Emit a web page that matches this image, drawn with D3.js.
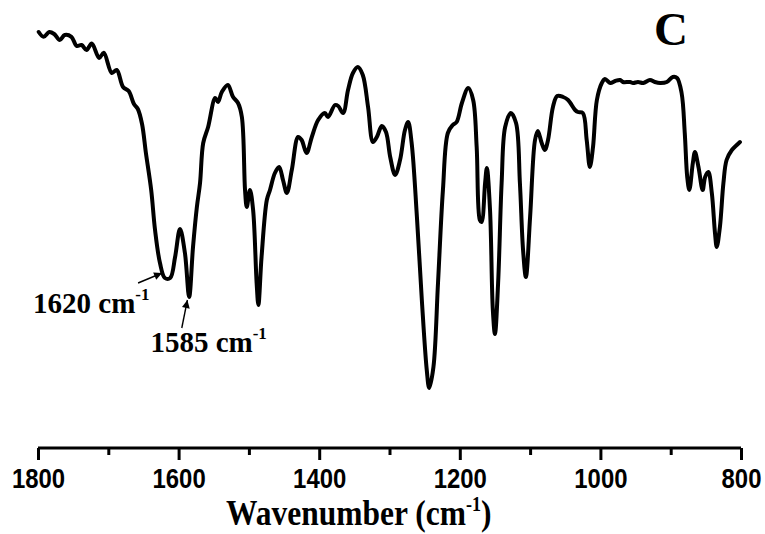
<!DOCTYPE html>
<html>
<head>
<meta charset="utf-8">
<script src="https://cdn.jsdelivr.net/npm/d3@7"></script>
<style>
  html, body { margin: 0; padding: 0; background: #fff; }
  svg { display: block; }
</style>
</head>
<body>
<svg id="chart" width="765" height="534"></svg>
<script>
// Wavenumber (cm-1) and transmittance (arbitrary units)
const wavenumbers = [1799,1792,1784,1777,1769,1762,1752.5,1745,1738,1731,1723.5,1713,1706.5,1695,1688,1679,1671,1663.5,1658,1652,1646.5,1639,1633.5,1626.5,1619.5,1612,1605,1598,1591,1585,1579.5,1574,1569.5,1565,1558,1548,1544,1538.5,1530,1522.5,1515.5,1510,1505.5,1503,1498.5,1494,1489,1486.5,1482,1474.5,1470,1463,1457,1451.5,1446,1439,1430,1425,1418,1410.5,1401.5,1392,1387.5,1377.5,1373,1366,1359,1352,1345,1338,1330.5,1323.5,1318,1311,1305,1299,1292,1285,1278,1273.5,1268.5,1261,1254,1247,1243.5,1237.5,1231,1224,1217,1210,1204.5,1197,1188,1181,1176,1171.5,1169,1164,1161.5,1157,1153,1150,1145.5,1140.5,1135.5,1127.5,1120,1114.5,1110,1106,1100,1093,1089,1083.5,1079,1074.5,1067.5,1061.5,1053,1046,1036,1032,1025,1019.5,1015,1010.5,1005,998,993.5,986,979,972,968,958,953.5,946.5,939,929.5,922.5,915,905.5,897,891,884.5,880,876.5,873.5,868.5,865.5,860.5,854.5,851,846.5,841.5,837,834.5,830,825,820.5,813,806,801.5];
const transmittance = [104.5,103.3,104.5,104.0,102.5,103.75,103.3,101.0,101.25,100.0,101.6,98.0,99.3,94.25,95.0,90.75,89.75,86.5,85.25,81.5,74.25,65.0,55.0,46.75,43.0,43.0,48.25,55.25,49.25,38.25,50.75,60.75,66.75,76.75,80.75,88.0,87.0,89.5,91.25,88.25,86.75,83.25,65.0,60.75,65.0,60.0,41.75,36.25,48.25,62.5,65.0,69.25,70.75,67.5,64.25,70.0,78.25,77.5,74.25,78.25,82.5,84.25,83.25,86.25,86.0,84.25,90.0,94.25,95.75,93.75,85.75,77.0,78.25,81.0,79.5,73.25,68.75,72.5,80.0,82.0,76.75,58.25,37.5,20.0,15.5,20.75,41.75,65.0,79.25,81.25,82.0,86.75,90.5,87.5,75.75,57.5,57.0,66.75,70.5,60.0,35.0,29.0,41.75,66.75,80.75,84.25,81.75,66.75,50.0,43.25,58.25,77.5,79.75,76.75,75.0,77.5,85.75,88.5,88.25,87.5,85.0,84.5,84.25,77.5,70.75,75.75,87.5,91.75,92.75,91.75,92.25,92.5,92.0,92.0,91.75,92.0,91.75,92.5,92.0,91.75,92.0,93.25,93.0,89.25,79.25,68.25,65.0,71.75,74.5,70.75,65.0,68.25,69.5,64.25,54.25,50.75,55.75,66.75,72.5,75.0,76.25,77.0];

const majorTicks = [1800, 1600, 1400, 1200, 1000, 800];
const minorTicks = [1700, 1500, 1300, 1100, 900];

// Annotated bands: arrow tip at (wavenumber, transmittance)
const annotationLabels = ["1620 cm", "1585 cm"];
const annotationWn = [1623.5, 1587.5];
const annotationT = [44.25, 37.5];

const panelLabel = "C";
const axisTitle = "Wavenumber (cm";

const svg = d3.select("#chart");
const x = d3.scaleLinear().domain([1800, 800]).range([38, 741]);
const y = d3.scaleLinear().domain([0, 100]).range([450, 50]);
const axisY = 448;

const serif = "'Liberation Serif', 'Times New Roman', serif";
const sans = "'Liberation Sans', Arial, sans-serif";

// Spectrum
const pts = wavenumbers.map((w, i) => [w, transmittance[i]]);
const line = d3.line().x(d => x(d[0])).y(d => y(d[1])).curve(d3.curveCatmullRom.alpha(0.5));
svg.append("path").datum(pts)
  .attr("d", line)
  .attr("fill", "none")
  .attr("stroke", "#000")
  .attr("stroke-width", 4)
  .attr("stroke-linejoin", "round")
  .attr("stroke-linecap", "round");

// Minor ticks
const minorAxis = d3.axisBottom(x).tickValues(minorTicks).tickSize(7).tickSizeOuter(0).tickFormat("");
const gMinor = svg.append("g").attr("transform", `translate(0,${axisY})`).call(minorAxis);
gMinor.select(".domain").remove();
gMinor.selectAll(".tick line").attr("stroke", "#000").attr("stroke-width", 3);

// Major axis
const majorAxis = d3.axisBottom(x).tickValues(majorTicks).tickSize(12).tickSizeOuter(0).tickFormat(d3.format("d"));
const gMajor = svg.append("g").attr("transform", `translate(0,${axisY})`).call(majorAxis);
gMajor.select(".domain").attr("stroke", "#000").attr("stroke-width", 3)
  .attr("d", `M${x(1800)},0H${x(800)}`);
gMajor.selectAll(".tick line").attr("stroke", "#000").attr("stroke-width", 3);
gMajor.selectAll(".tick text")
  .attr("y", 40).attr("dy", 0)
  .attr("fill", "#000")
  .style("font-family", sans)
  .style("font-weight", "bold")
  .style("font-size", "26px")
  .attr("transform", "scale(1,1.06)")
  .attr("textLength", d => String(d).length * 13.3)
  .attr("lengthAdjust", "spacingAndGlyphs");
gMajor.selectAll(".tick text").attr("y", 40 / 1.06);

// Axis title (slightly condensed like the original)
const title = svg.append("text")
  .attr("transform", "translate(226,525) scale(0.9,1)")
  .attr("fill", "#000")
  .style("font-family", serif)
  .style("font-weight", "bold")
  .style("font-size", "35px");
title.append("tspan").text(axisTitle);
title.append("tspan").attr("dy", -14).style("font-size", "20px").text("-1");
title.append("tspan").attr("dy", 14).text(")");

// Panel label
svg.append("text")
  .attr("x", 671).attr("y", 45)
  .attr("text-anchor", "middle")
  .attr("fill", "#000")
  .style("font-family", serif)
  .style("font-weight", "bold")
  .style("font-size", "47px")
  .text(panelLabel);

// Arrow marker
svg.append("defs").append("marker")
  .attr("id", "arrow")
  .attr("viewBox", "0 0 10 10")
  .attr("refX", 10).attr("refY", 5)
  .attr("markerWidth", 10).attr("markerHeight", 8)
  .attr("markerUnits", "userSpaceOnUse")
  .attr("orient", "auto")
  .append("path").attr("d", "M0,0L10,5L0,10Z").attr("fill", "#000");

const tailOffsets = [[-24, 10], [-5.6, 28]];
const labelOffsets = [[-129, 40], [-37, 52]];

annotationLabels.forEach((lab, i) => {
  const tx = x(annotationWn[i]), ty = y(annotationT[i]);
  svg.append("line")
    .attr("x1", tx + tailOffsets[i][0]).attr("y1", ty + tailOffsets[i][1])
    .attr("x2", tx).attr("y2", ty)
    .attr("stroke", "#000").attr("stroke-width", 1.4)
    .attr("marker-end", "url(#arrow)");
  const t = svg.append("text")
    .attr("x", tx + labelOffsets[i][0]).attr("y", ty + labelOffsets[i][1])
    .attr("fill", "#000")
    .style("font-family", serif)
    .style("font-weight", "bold")
    .style("font-size", "29px");
  t.append("tspan").text(lab);
  t.append("tspan").attr("dy", -13).style("font-size", "17px").text("-1");
});
</script>
</body>
</html>
